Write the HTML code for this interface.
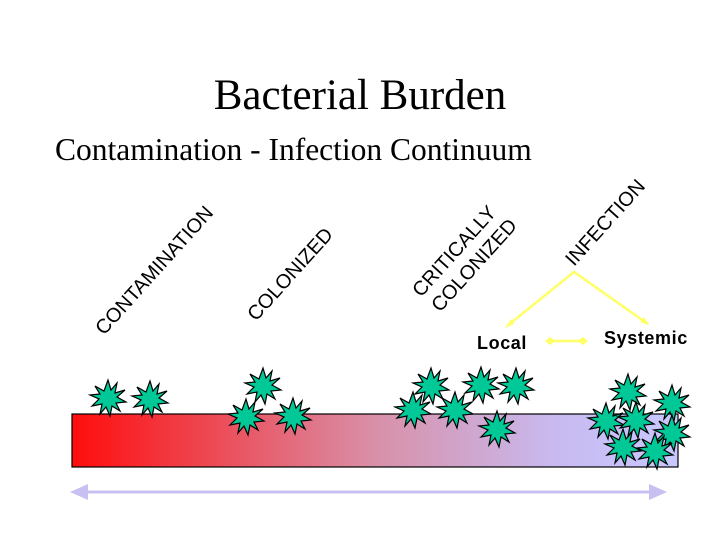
<!DOCTYPE html>
<html><head><meta charset="utf-8"><style>
html,body{margin:0;padding:0;background:#fff;}
svg{display:block;}
text{font-family:"Liberation Sans",Arial,sans-serif;}
</style></head><body>
<svg width="720" height="540" viewBox="0 0 720 540">
<defs>
<linearGradient id="g" x1="0" x2="1" y1="0" y2="0">
<stop offset="0" stop-color="#ff0d0d"/>
<stop offset="0.5" stop-color="#d890a8"/>
<stop offset="0.8" stop-color="#c8baf0"/>
<stop offset="1" stop-color="#c8c8ff"/>
</linearGradient>
<polygon id="s" points="0,-18 3,-8 9,-15 7,-5 17,-8 9,-1 18,4 8,5 12,13 4,8 2,18 -2,9 -8,16 -6,6 -16,8 -9,1 -18,-3 -8,-4 -13,-12 -4,-7" fill="#00c896" stroke="#000" stroke-width="1.2"/>
</defs>
<text x="360" y="109" text-anchor="middle" style="font-family:'Liberation Serif',serif" font-size="43">Bacterial Burden</text>
<text x="55" y="160" style="font-family:'Liberation Serif',serif" font-size="31.5">Contamination - Infection Continuum</text>
<g font-size="20" fill="#000">
<text transform="translate(104,336) rotate(-48)">CONTAMINATION</text>
<text transform="translate(256,322) rotate(-48)">COLONIZED</text>
<text transform="translate(421,298) rotate(-48)">CRITICALLY</text>
<text transform="translate(440,313) rotate(-48)">COLONIZED</text>
<text transform="translate(574,267) rotate(-48)">INFECTION</text>
</g>
<g stroke="#ffff66" stroke-width="2.5" fill="#ffff66">
<polyline points="507,326 574,272 648,324" fill="none"/>
<polygon points="505,328 511,319 514,324" stroke="none"/>
<polygon points="649,325 640,322 644,317" stroke="none"/>
<line x1="549" y1="341" x2="584" y2="341"/>
<polygon points="545,341 550,337 555,341 550,345" stroke="none"/>
<polygon points="588,341 583,337 578,341 583,345" stroke="none"/>
</g>
<text x="477" y="349" font-size="18" font-weight="bold" letter-spacing="0.6">Local</text>
<text x="604" y="344" font-size="18" font-weight="bold" letter-spacing="0.6">Systemic</text>
<rect x="72" y="414" width="606" height="53" fill="url(#g)" stroke="#000" stroke-width="1.2"/>
<g>
<use href="#s" x="108" y="398"/><use href="#s" x="150" y="399"/>
<use href="#s" x="263" y="386"/><use href="#s" x="246" y="417"/><use href="#s" x="293" y="416"/>
<use href="#s" x="431" y="386"/><use href="#s" x="481" y="385"/><use href="#s" x="516" y="386"/>
<use href="#s" x="413" y="410"/><use href="#s" x="455" y="410"/><use href="#s" x="497" y="429"/>
<use href="#s" x="628" y="392"/><use href="#s" x="672" y="403"/><use href="#s" x="606" y="421"/>
<use href="#s" x="636" y="420"/><use href="#s" x="672" y="433"/><use href="#s" x="623" y="447"/>
<use href="#s" x="655" y="451"/>
</g>
<g fill="#c8c0f0" stroke="#c8c0f0">
<line x1="80" y1="492" x2="657" y2="492" stroke-width="3"/>
<polygon points="70,492 88,484 88,500" stroke="none"/>
<polygon points="667,492 649,484 649,500" stroke="none"/>
</g>
</svg>
</body></html>
